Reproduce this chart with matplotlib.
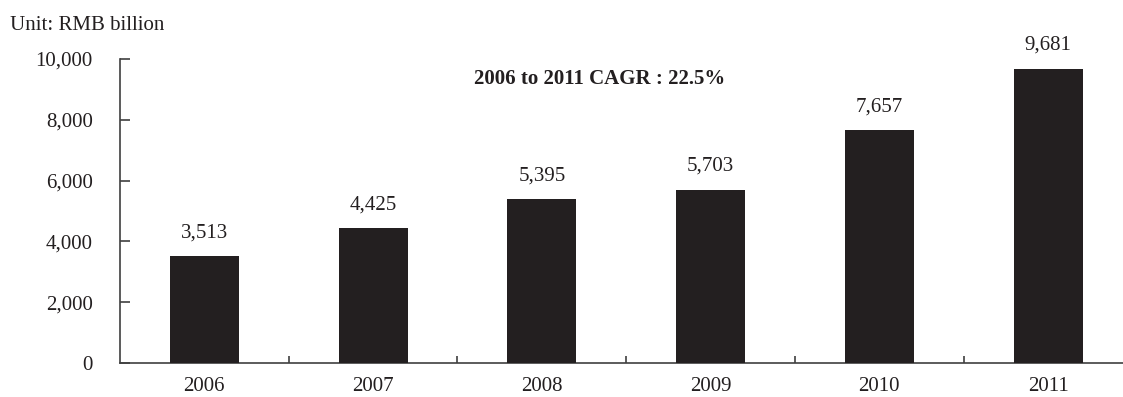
import matplotlib.pyplot as plt
import numpy as np

years = ['2006', '2007', '2008', '2009', '2010', '2011']
values = [3513, 4425, 5395, 5703, 7657, 9681]
yticks = [0, 2000, 4000, 6000, 8000, 10000]

plt.rcParams['font.family'] = ['Liberation Serif', 'DejaVu Serif']

fig = plt.figure(figsize=(11.23, 3.97), dpi=100)
ax = fig.add_axes([120/1123, 34/397, 1012.5/1123, 304/397])

x = np.arange(len(years))
ax.bar(x, values, width=0.41, color='#231f20', zorder=3)

for xi, v in zip(x, values):
    ax.annotate(f'{v:,}', (xi, v), xytext=(0, 10), textcoords='offset points',
                ha='center', va='bottom', fontsize=15, color='#231f20')

ax.set_xlim(-0.5, 5.5)
ax.set_ylim(0, 10000)
ax.set_yticks(yticks)
ax.set_yticklabels([f'{t:,}' for t in yticks], fontsize=15, color='#231f20')
ax.set_xticks(x)
ax.set_xticklabels(years, fontsize=15, color='#231f20')
ax.tick_params(axis='x', which='major', length=0, pad=10)
ax.set_xticks(x[:-1] + 0.5, minor=True)
ax.tick_params(axis='x', which='minor', direction='in', length=5, width=1.2, color='#404040')
ax.tick_params(axis='y', direction='in', length=7, width=1.2, color='#404040', pad=19.5)

for s in ['top', 'right']:
    ax.spines[s].set_visible(False)
for s in ['left', 'bottom']:
    ax.spines[s].set_color('#404040')
    ax.spines[s].set_linewidth(1.2)

fig.text(10/1123, 1 - 25/397, 'Unit: RMB billion', fontsize=15, va='center', ha='left', color='#231f20')
fig.text(600/1123, 1 - 79/397, '2006 to 2011 CAGR : 22.5%', fontsize=15, fontweight='bold',
         va='center', ha='center', color='#231f20')

fig.savefig('out.png', dpi=100)
